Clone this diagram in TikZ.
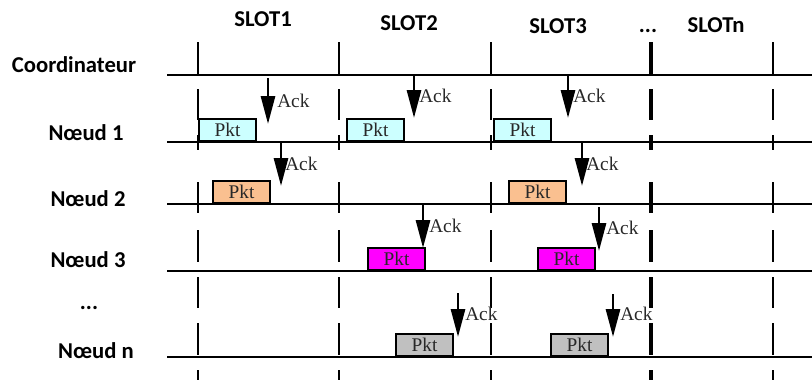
\documentclass[tikz,border=0pt]{standalone}
\usepackage{fontspec}
\setmainfont{Liberation Serif}
\newfontfamily\labelfont{Carlito}
\usetikzlibrary{arrows.meta}
\definecolor{pktcyan}{RGB}{204,255,255}
\definecolor{pktorange}{RGB}{250,192,144}
\definecolor{pktmagenta}{RGB}{255,0,255}
\definecolor{pktgrey}{RGB}{192,192,192}
\definecolor{pkttext}{RGB}{40,40,40}
\begin{document}
\begin{tikzpicture}[x=0.75pt,y=-0.75pt,line cap=butt,
  rowlabel/.style={font=\labelfont\bfseries\fontsize{17}{20}\selectfont,inner sep=0pt,anchor=base},
  pktbox/.style={draw,line width=1.5pt,anchor=south west,minimum width=42.75pt,minimum height=16.5pt,inner sep=0pt,text=pkttext,font=\fontsize{14.5}{16}\selectfont},
  ackarrow/.style={-{Triangle[length=21pt,width=10.5pt]},line width=2.2pt},
  acklabel/.style={anchor=base west,inner sep=0pt,text=pkttext,font=\fontsize{14.5}{16}\selectfont},
  timeline/.style={line width=1.9pt}]
  \useasboundingbox (0,0) rectangle (812,380);
  \foreach \x/\w in {198/1.5pt,339/1.5pt,491/1.5pt,651/2.6pt,773/1.5pt} {
    \draw[line width=\w] (\x,42) -- (\x,75);
    \foreach \a/\b in {89/120,135/150,182/213,230/262,277/308,323/355,370/380}
      \draw[line width=\w] (\x,\a) -- (\x,\b);
  }
  \foreach \y in {75,142,204,271,357} {
    \draw[timeline] (167,\y) -- (812,\y);
  }
  \node[rowlabel] (coord) at (74,72) {Coordinateur};
  \node[rowlabel] (n1) at (86,140) {Nœud 1};
  \node[rowlabel] (n2) at (88,206) {Nœud 2};
  \node[rowlabel] (n3) at (88,267) {Nœud 3};
  \node[rowlabel] (ndots) at (89,309) {...};
  \node[rowlabel] (nn) at (96,358) {Nœud n};
  \node[rowlabel] (s1) at (263,26) {SLOT1};
  \node[rowlabel] (s2) at (409,30) {SLOT2};
  \node[rowlabel] (s3) at (558,33) {SLOT3};
  \node[rowlabel] (sdots) at (648,32) {...};
  \node[rowlabel] (sn) at (716,32) {SLOTn};
  \foreach \n/\px/\py/\col in {11/198/142/pktcyan,12/346/142/pktcyan,13/493/142/pktcyan,
      21/212/204/pktorange,22/508/204/pktorange,
      31/367/271/pktmagenta,32/537/271/pktmagenta,
      n1/395/357/pktgrey,n2/550/357/pktgrey} {
    \node[pktbox,fill=\col] (p\n) at (\px,\py) {Pkt};
  }
  \foreach \n/\ax/\ys/\ye/\lx/\ly in {11/268/78/124/277/107,12/414/76/118/419/102,13/568/76/118/573/102,
      21/281/143/186/285/170,22/582/143/186/586/170,
      31/423/205/248/429/232,32/599/207/251/606/234,
      n1/458/293/337/465/320,n2/613/294/337/620/320} {
    \coordinate (a\n) at (\ax,\ys);
    \coordinate (b\n) at (\ax,\ye);
    \draw[ackarrow] (a\n) -- (b\n);
    \node[acklabel] (k\n) at (\lx,\ly) {Ack};
  }
\end{tikzpicture}
\end{document}
